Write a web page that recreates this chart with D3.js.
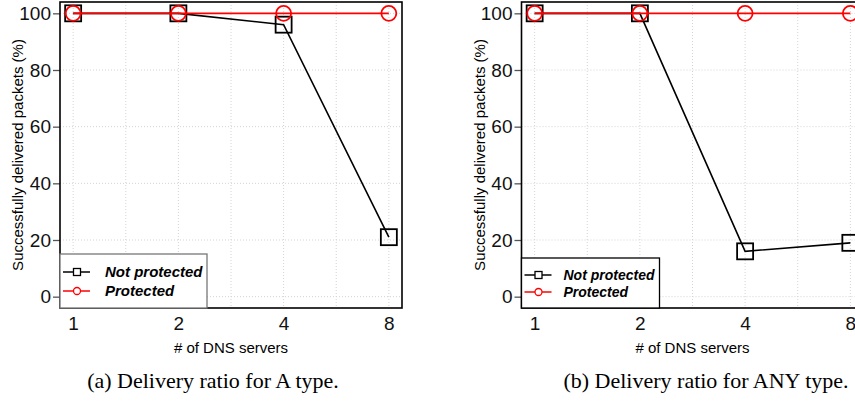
<!DOCTYPE html>
<html>
<head>
<meta charset="utf-8">
<script src="https://cdn.jsdelivr.net/npm/d3@7"></script>
<style>
  body { margin: 0; background: #fff; }
  svg { display: block; }
</style>
</head>
<body>
<svg id="chart" width="855" height="417"></svg>
<script>
const servers = ["1", "2", "4", "8"];
const yTicks = [0, 20, 40, 60, 80, 100];
const seriesNames = ["Not protected", "Protected"];

const notProtectedA = [100, 100, 96, 21];
const protectedA = [100, 100, 100, 100];
const notProtectedB = [100, 100, 16, 19];
const protectedB = [100, 100, 100, 100];

const captions = ["(a) Delivery ratio for A type.", "(b) Delivery ratio for ANY type."];

const svg = d3.select("#chart");

const panels = [
  { left: 60, series: [notProtectedA, protectedA], caption: captions[0], capX: 213,
    legend: { w: 147, top: 254, rows: [272, 291], text: 45, font: 15, border: "#777" } },
  { left: 521.5, series: [notProtectedB, protectedB], caption: captions[1], capX: 706,
    legend: { w: 138, top: 258, rows: [275, 292], text: 42, font: 14, border: "#000" } },
];

const plotW = 342, plotTop = 2, plotBottom = 308;
const colors = ["#000", "#f00"];

panels.forEach((p) => {
  const g = svg.append("g");
  const x = d3.scaleLinear().domain([-0.125, 3.125]).range([p.left, p.left + plotW]);
  const y = d3.scaleLinear().domain([-4, 104]).range([plotBottom, plotTop]);

  // grid
  g.selectAll(".vgrid")
    .data(d3.range(0, 3.01, 0.5))
    .enter()
    .append("line")
    .attr("x1", (d) => x(d)).attr("x2", (d) => x(d))
    .attr("y1", plotTop).attr("y2", plotBottom)
    .attr("stroke", "#d4d4d4").attr("stroke-dasharray", "1,2");
  g.selectAll(".hgrid")
    .data(yTicks)
    .enter()
    .append("line")
    .attr("x1", p.left).attr("x2", p.left + plotW)
    .attr("y1", (d) => y(d)).attr("y2", (d) => y(d))
    .attr("stroke", "#d4d4d4").attr("stroke-dasharray", "1,2");

  // y axis
  const yAxis = g.append("g")
    .attr("transform", `translate(${p.left},0)`)
    .call(d3.axisLeft(y).tickValues(yTicks).tickSize(7).tickPadding(2));
  yAxis.select(".domain").remove();
  yAxis.selectAll(".tick line").attr("stroke", "#555").attr("stroke-width", 1.3);
  yAxis.selectAll(".tick text")
    .attr("font-family", "Liberation Sans, Arial, sans-serif")
    .attr("font-size", 19).attr("fill", "#111");

  // x axis
  const xAxis = g.append("g")
    .attr("transform", `translate(0,${plotBottom})`)
    .call(d3.axisBottom(x).tickValues([0, 1, 2, 3]).tickFormat((d) => servers[d]).tickSize(0).tickPadding(9));
  xAxis.select(".domain").remove();
  xAxis.selectAll(".tick text")
    .attr("font-family", "Liberation Sans, Arial, sans-serif")
    .attr("font-size", 19).attr("fill", "#111");

  // box
  g.append("rect")
    .attr("x", p.left).attr("y", plotTop)
    .attr("width", plotW).attr("height", plotBottom - plotTop)
    .attr("fill", "none").attr("stroke", "#000").attr("stroke-width", 1.6);

  // series
  const line = d3.line().x((d, i) => x(i)).y((d) => y(d));
  p.series.forEach((vals, si) => {
    g.append("path")
      .datum(vals)
      .attr("d", line)
      .attr("fill", "none").attr("stroke", colors[si]).attr("stroke-width", 1.6);
    if (si === 0) {
      g.selectAll(".sq")
        .data(vals)
        .enter()
        .append("rect")
        .attr("x", (d, i) => x(i) - 8).attr("y", (d) => y(d) - 8)
        .attr("width", 16).attr("height", 16)
        .attr("fill", "none").attr("stroke", "#000").attr("stroke-width", 1.8);
    } else {
      g.selectAll(".ci")
        .data(vals)
        .enter()
        .append("circle")
        .attr("cx", (d, i) => x(i)).attr("cy", (d) => y(d))
        .attr("r", 7.5)
        .attr("fill", "none").attr("stroke", "#f00").attr("stroke-width", 1.8);
    }
  });

  // labels
  g.append("text")
    .attr("transform", `translate(${p.left - 37},${(plotTop + plotBottom) / 2}) rotate(-90)`)
    .attr("text-anchor", "middle")
    .attr("font-family", "Liberation Sans, Arial, sans-serif")
    .attr("font-size", 15)
    .text("Successfully delivered packets (%)");
  g.append("text")
    .attr("x", p.left + plotW / 2).attr("y", 353)
    .attr("text-anchor", "middle")
    .attr("font-family", "Liberation Sans, Arial, sans-serif")
    .attr("font-size", 15)
    .text("# of DNS servers");

  // legend
  const L = p.legend;
  const lg = g.append("g");
  lg.append("rect")
    .attr("x", p.left).attr("y", L.top)
    .attr("width", L.w).attr("height", plotBottom - L.top)
    .attr("fill", "#fff").attr("stroke", L.border).attr("stroke-width", 1.3);
  seriesNames.forEach((name, i) => {
    const ry = L.rows[i];
    lg.append("line")
      .attr("x1", p.left + 3).attr("x2", p.left + 30)
      .attr("y1", ry).attr("y2", ry)
      .attr("stroke", colors[i]).attr("stroke-width", 1.5);
    if (i === 0) {
      lg.append("rect")
        .attr("x", p.left + 13.5).attr("y", ry - 3.5)
        .attr("width", 7).attr("height", 7)
        .attr("fill", "#fff").attr("stroke", "#000").attr("stroke-width", 1.3);
    } else {
      lg.append("circle")
        .attr("cx", p.left + 17).attr("cy", ry).attr("r", 3.5)
        .attr("fill", "#fff").attr("stroke", "#f00").attr("stroke-width", 1.3);
    }
    lg.append("text")
      .attr("x", p.left + L.text).attr("y", ry)
      .attr("dy", "0.36em")
      .attr("font-family", "Liberation Sans, Arial, sans-serif")
      .attr("font-size", L.font)
      .attr("font-weight", "bold").attr("font-style", "italic")
      .text(name);
  });

  // caption
  svg.append("text")
    .attr("x", p.capX).attr("y", 388)
    .attr("text-anchor", "middle")
    .attr("font-family", "Liberation Serif, Times New Roman, serif")
    .attr("font-size", 22)
    .text(p.caption);
});
</script>
</body>
</html>
